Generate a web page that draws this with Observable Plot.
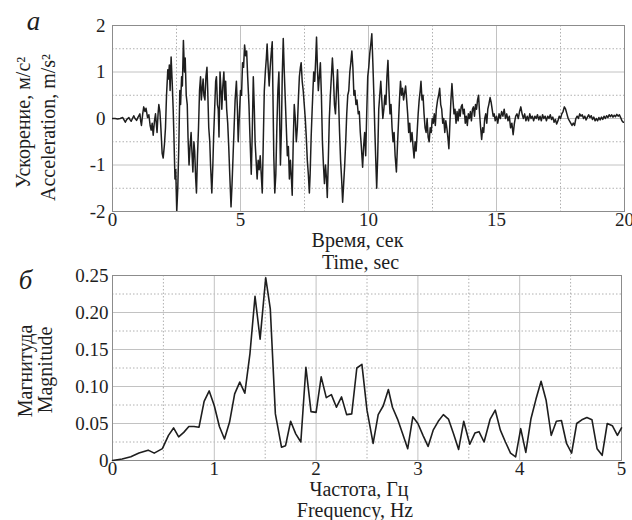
<!DOCTYPE html>
<html><head><meta charset="utf-8">
<script src="https://cdn.jsdelivr.net/npm/d3@7"></script>
<script src="https://cdn.jsdelivr.net/npm/@observablehq/plot@0.6"></script>
<style>
body{margin:0;background:#fff}
#chart svg{display:block;overflow:visible;font-family:'Liberation Serif','Times New Roman',serif !important}
#chart svg text, #chart svg g{font-family:'Liberation Serif','Times New Roman',serif !important}
</style>
</head><body><div id="chart"></div>
<script>
// Panel а: acceleration record [time (s), acceleration (m/s²)]
const accelRecord = [
[0,0],[0.1,0],[0.2,-0.01],[0.3,0],[0.4,0.02],[0.45,-0.03],[0.5,-0.08],[0.56,-0.02],[0.64,0.02],[0.69,-0.03],
[0.73,-0.06],[0.78,0],[0.83,0.06],[0.88,0],[0.94,-0.04],[1.0,0.03],[1.07,0.1],[1.1,-0.05],[1.13,-0.15],[1.18,0.1],
[1.22,0.25],[1.27,0.15],[1.31,0.22],[1.37,0.02],[1.42,0.08],[1.47,-0.15],[1.51,-0.25],[1.55,-0.1],[1.59,-0.36],[1.64,-0.05],
[1.68,0.1],[1.71,-0.1],[1.74,-0.3],[1.78,0.1],[1.81,0.3],[1.85,0.15],[1.88,-0.1],[1.94,-0.75],[1.98,-0.85],[2.03,-0.55],
[2.07,-0.2],[2.11,0.5],[2.16,1.05],[2.19,0.85],[2.22,1.15],[2.25,0.6],[2.29,1.32],[2.33,0.8],[2.37,0.2],[2.4,-0.4],
[2.44,-1.3],[2.47,-1.1],[2.51,-2.0],[2.55,-1.5],[2.59,-0.6],[2.63,0.6],[2.66,0.3],[2.7,0.9],[2.73,0.7],[2.77,1.68],
[2.81,1.0],[2.84,1.3],[2.88,0.5],[2.92,0.3],[2.95,-0.4],[2.99,-1.0],[3.03,-0.6],[3.07,-0.3],[3.11,-0.8],[3.14,-1.15],
[3.18,-0.5],[3.21,-0.7],[3.25,-1.3],[3.28,-1.6],[3.32,-0.8],[3.36,-0.2],[3.4,0.6],[3.44,0.9],[3.47,0.4],[3.5,0.6],
[3.54,0.85],[3.57,0.5],[3.61,0.4],[3.65,0.9],[3.69,1.1],[3.72,0.6],[3.76,-0.2],[3.8,-0.5],[3.83,-1.0],[3.88,-1.6],
[3.92,-1.0],[3.95,-0.4],[3.99,0.2],[4.03,0.8],[4.06,0.9],[4.1,0.3],[4.13,0.2],[4.16,-0.4],[4.2,1.0],[4.24,0.6],
[4.27,0.2],[4.31,0.7],[4.35,1.0],[4.39,0.4],[4.42,0.8],[4.46,0.2],[4.5,-0.1],[4.54,-0.6],[4.58,-1.2],[4.63,-1.9],
[4.67,-1.4],[4.71,-0.8],[4.75,-0.2],[4.79,0.4],[4.84,0.8],[4.88,0.2],[4.91,-0.5],[4.95,0],[5.0,0.6],[5.04,0.5],
[5.08,1.2],[5.12,1.1],[5.16,1.58],[5.2,1.35],[5.24,1.45],[5.28,0.9],[5.33,0.3],[5.37,-0.4],[5.42,-1.2],[5.46,-0.3],
[5.5,0.9],[5.54,0.2],[5.57,-0.5],[5.61,-0.9],[5.65,-1.3],[5.69,-0.9],[5.73,-1.1],[5.77,-0.8],[5.81,-1.2],[5.85,-1.6],
[5.89,-0.5],[5.93,0.6],[5.97,1.0],[6.01,1.3],[6.04,1.6],[6.08,1.1],[6.12,0.7],[6.16,1.1],[6.2,1.4],[6.24,1.65],
[6.27,0.4],[6.3,-0.8],[6.34,-1.6],[6.38,-1.2],[6.42,-0.2],[6.46,0.6],[6.5,1.0],[6.53,0],[6.56,-1.0],[6.6,-0.2],
[6.63,0.9],[6.67,1.72],[6.71,1.0],[6.75,0.4],[6.79,-0.2],[6.83,-0.8],[6.87,-0.6],[6.91,-1.3],[6.95,-0.9],[6.99,-1.3],
[7.02,-1.65],[7.06,-0.5],[7.1,0.3],[7.14,0],[7.18,-0.5],[7.22,-0.2],[7.26,0.4],[7.3,0.9],[7.34,1.1],[7.37,1.2],
[7.41,0.8],[7.45,0.6],[7.49,0.3],[7.53,0],[7.57,-0.4],[7.61,-0.9],[7.65,-1.2],[7.69,-1.6],[7.72,-1.2],[7.76,-0.4],
[7.8,0.2],[7.83,0.6],[7.86,1.0],[7.9,0.8],[7.94,1.3],[7.97,1.75],[8.01,1.0],[8.04,0.6],[8.08,0.9],[8.12,1.2],
[8.16,0.5],[8.2,-0.5],[8.24,-1.0],[8.28,-1.4],[8.32,-1.0],[8.36,-1.3],[8.39,-1.7],[8.43,-0.9],[8.47,0],[8.51,0.5],
[8.55,0.9],[8.59,1.3],[8.63,0.9],[8.67,0.3],[8.71,0.1],[8.75,0.6],[8.79,1.05],[8.83,0.4],[8.87,-0.3],[8.91,-0.9],
[8.95,-1.3],[8.99,-1.8],[9.03,-1.4],[9.07,-1.0],[9.11,-0.5],[9.15,0.1],[9.19,0.5],[9.23,0.6],[9.27,1.0],[9.31,1.2],
[9.35,1.45],[9.39,1.1],[9.43,0.5],[9.47,0.6],[9.51,0.3],[9.55,0.4],[9.6,0.1],[9.64,0.15],[9.68,-0.3],[9.72,-0.6],
[9.77,-1.05],[9.81,-0.6],[9.85,-0.3],[9.89,-0.8],[9.93,0.1],[9.97,0.9],[10.01,1.1],[10.05,1.4],[10.09,1.6],[10.13,1.82],
[10.17,1.2],[10.21,0.5],[10.25,-0.3],[10.29,-1.0],[10.32,-1.5],[10.36,-0.8],[10.4,0.2],[10.44,0.5],[10.48,0.8],[10.52,0.4],
[10.56,0],[10.6,0.2],[10.64,0.5],[10.68,0.3],[10.72,0.9],[10.76,1.25],[10.8,0.6],[10.84,0.1],[10.88,0.3],[10.92,-0.2],
[10.96,-0.5],[11.0,-0.3],[11.04,-0.8],[11.09,-1.15],[11.13,-0.6],[11.17,-0.1],[11.21,0.4],[11.25,0.8],[11.29,0.5],[11.33,0.65],
[11.37,0.4],[11.41,0.55],[11.45,0.7],[11.49,0.4],[11.53,0.1],[11.57,-0.3],[11.61,-0.1],[11.65,-0.5],[11.7,-0.3],[11.74,-0.6],
[11.78,-0.85],[11.82,-0.5],[11.86,-0.7],[11.9,-0.3],[11.94,0.1],[11.98,0.4],[12.02,0.6],[12.05,0.8],[12.09,0.4],[12.13,0.5],
[12.17,0.1],[12.21,-0.2],[12.25,-0.3],[12.29,0],[12.33,-0.4],[12.37,-0.5],[12.41,-0.2],[12.45,-0.3],[12.49,0],[12.53,-0.1],
[12.57,0.1],[12.61,-0.15],[12.65,0.2],[12.7,0.4],[12.74,0.5],[12.78,0.65],[12.82,0.3],[12.86,0.2],[12.9,-0.1],[12.94,0],
[12.98,-0.3],[13.02,-0.05],[13.06,-0.2],[13.1,-0.4],[13.14,-0.65],[13.18,-0.1],[13.22,0.4],[13.26,0.75],[13.3,0.4],[13.34,0.1],
[13.38,0.2],[13.42,-0.1],[13.46,0.15],[13.5,-0.05],[13.54,0.2],[13.58,0.05],[13.62,0.25],[13.66,0.3],[13.7,0.1],[13.74,0.2],
[13.78,-0.1],[13.82,0.05],[13.86,-0.15],[13.9,0.1],[13.94,0],[13.98,0.15],[14.02,-0.05],[14.06,0.2],[14.1,0.25],[14.14,0.05],
[14.18,0.3],[14.22,0.2],[14.26,0.4],[14.3,0.5],[14.34,0.1],[14.38,-0.2],[14.42,-0.45],[14.46,-0.2],[14.5,-0.3],[14.54,0],
[14.58,0.1],[14.62,-0.1],[14.66,0.2],[14.7,0.3],[14.75,0.45],[14.79,0.35],[14.83,0.2],[14.87,0.05],[14.91,0.1],[14.95,-0.05],
[15.0,0.05],[15.05,-0.1],[15.1,0.1],[15.15,0],[15.2,0.15],[15.25,0.05],[15.3,0.2],[15.35,0],[15.4,0.1],[15.45,-0.05],
[15.5,0.05],[15.55,-0.2],[15.6,-0.1],[15.65,-0.35],[15.7,-0.1],[15.75,0.05],[15.8,0.1],[15.85,0],[15.9,0.15],[15.95,0.25],
[16.0,0.1],[16.05,0],[16.1,0.1],[16.15,-0.05],[16.2,0.05],[16.25,-0.05],[16.3,0.1],[16.35,0],[16.4,0.05],[16.45,-0.05],
[16.5,0.05],[16.55,0],[16.6,0.08],[16.65,-0.03],[16.7,0.05],[16.75,-0.05],[16.8,0.08],[16.85,0],[16.9,0.05],[16.95,-0.05],
[17.0,0.05],[17.05,0],[17.1,0.08],[17.15,-0.02],[17.2,0.03],[17.25,-0.08],[17.3,-0.02],[17.35,-0.12],[17.4,-0.05],[17.45,0.05],
[17.5,0],[17.55,0.1],[17.6,0.15],[17.65,0.25],[17.7,0.2],[17.75,0.1],[17.8,0],[17.85,-0.05],[17.9,-0.1],[17.95,-0.15],
[18.0,-0.1],[18.05,-0.15],[18.1,0],[18.15,0.05],[18.2,0],[18.25,0.1],[18.3,0.05],[18.35,0.08],[18.4,0],[18.45,0.05],
[18.5,-0.03],[18.55,0.03],[18.6,0.08],[18.65,0.02],[18.7,0.06],[18.75,-0.02],[18.8,0.03],[18.85,-0.05],[18.9,0],[18.95,-0.05],
[19.0,0.02],[19.05,-0.03],[19.1,0.03],[19.15,-0.02],[19.2,0.05],[19.25,0],[19.3,0.06],[19.35,0.02],[19.4,0.08],[19.45,0.04],
[19.5,0.08],[19.55,0.03],[19.6,0.07],[19.65,0.04],[19.7,0.09],[19.75,0.05],[19.8,0.08],[19.85,0.02],[19.9,-0.05],[19.95,-0.08],
[20.0,-0.08]
];

// Panel б: amplitude spectrum
const freq = [0,0.095,0.18,0.26,0.35,0.41,0.49,0.55,0.60,0.65,0.70,0.75,0.80,0.85,0.90,0.95,
1.00,1.05,1.10,1.15,1.20,1.25,1.30,1.35,1.40,1.45,1.505,1.55,1.60,1.66,1.70,1.75,1.80,1.85,1.90,1.95,
2.00,2.05,2.10,2.15,2.20,2.25,2.30,2.35,2.40,2.45,2.50,2.56,2.61,2.66,2.71,2.75,2.80,2.85,2.90,2.95,
3.00,3.05,3.10,3.15,3.20,3.25,3.30,3.35,3.40,3.45,3.51,3.56,3.60,3.65,3.71,3.76,3.81,3.86,3.91,3.96,
4.01,4.06,4.11,4.16,4.21,4.26,4.31,4.36,4.41,4.46,4.51,4.56,4.61,4.66,4.71,4.76,4.81,4.86,4.91,4.96,5.00];
const magnitude = [0,0.002,0.005,0.010,0.014,0.010,0.016,0.034,0.044,0.032,0.038,0.046,0.046,0.045,0.080,0.094,
0.074,0.046,0.029,0.052,0.090,0.106,0.091,0.144,0.222,0.164,0.247,0.205,0.063,0.018,0.020,0.053,0.036,0.025,0.126,0.066,
0.065,0.113,0.085,0.089,0.072,0.086,0.062,0.063,0.125,0.130,0.068,0.023,0.062,0.074,0.096,0.072,0.056,0.036,0.016,0.059,
0.050,0.034,0.019,0.041,0.053,0.062,0.056,0.036,0.015,0.053,0.022,0.037,0.039,0.025,0.056,0.068,0.041,0.025,0.010,0.005,
0.043,0.011,0.056,0.083,0.107,0.081,0.034,0.053,0.054,0.023,0.010,0.050,0.055,0.058,0.055,0.016,0.007,0.050,0.047,0.034,0.044];

const timeTicks = [0, 5, 10, 15, 20];
const timeMinor = [2.5, 7.5, 12.5, 17.5];
const accelTicks = [-2, -1, 0, 1, 2];
const accelMinor = [-1.5, -0.5, 0.5, 1.5];
const freqTicks = [0, 1, 2, 3, 4, 5];
const freqMinor = [0.5, 1.5, 2.5, 3.5, 4.5];
const magTicks = [0, 0.05, 0.10, 0.15, 0.20, 0.25];
const magMinor = [0.025, 0.075, 0.125, 0.175, 0.225];

const serif = "Liberation Serif";
const majorColor = "#c2c2c2", minorColor = "#b0b0b0", frameColor = "#8c8c8c", ink = "#1e1e1e";

function grids(xMaj, yMaj, xMin, yMin) {
  return [
    Plot.gridX(xMin, {stroke: minorColor, strokeOpacity: 1, strokeDasharray: "1.5,2"}),
    Plot.gridY(yMin, {stroke: minorColor, strokeOpacity: 1, strokeDasharray: "1.5,2"}),
    Plot.gridX(xMaj.slice(1, -1), {stroke: majorColor, strokeOpacity: 1}),
    Plot.gridY(yMaj.slice(1, -1), {stroke: majorColor, strokeOpacity: 1}),
    Plot.frame({stroke: frameColor})
  ];
}
const t = (s, o) => Plot.text([s], {text: d => d, fill: ink, fontFamily: serif,
  textAnchor: "middle", lineAnchor: "middle", ...o});
const axisOpts = {tickSize: 0, label: null, fontSize: 19, fontFamily: serif, fill: ink};

const panelA = Plot.plot({
  width: 632, height: 260, marginTop: 25, marginBottom: 49, marginLeft: 112, marginRight: 8,
  style: {fontFamily: serif, fontSize: "19px", background: "transparent", color: ink, overflow: "visible"},
  x: {domain: [0, 20]},
  y: {domain: [-2, 2]},
  marks: [
    ...grids(timeTicks, accelTicks, timeMinor, accelMinor),
    Plot.line(accelRecord, {x: d => d[0], y: d => d[1], stroke: ink, strokeWidth: 1.5, clip: true}),
    Plot.axisX(timeTicks, {...axisOpts, tickPadding: 1, tickFormat: d => String(d)}),
    Plot.axisY(accelTicks, {...axisOpts, tickPadding: 7, tickFormat: d => String(d)}),
    t("Время, сек", {frameAnchor: "bottom", dx: -11, dy: 29, fontSize: 20}),
    t("Time, sec", {frameAnchor: "bottom", dx: -8, dy: 51, fontSize: 20}),
    t("Ускорение, м/с²", {frameAnchor: "left", dx: -89, dy: 4, rotate: -90, fontSize: 20}),
    t("Acceleration, m/s²", {frameAnchor: "left", dx: -64, dy: 9, rotate: -90, fontSize: 20}),
    t("а", {frameAnchor: "top-left", dx: -79, dy: -4, fontSize: 27, fontStyle: "italic"})
  ]
});

const panelB = Plot.plot({
  width: 632, height: 260, marginTop: 15, marginBottom: 60, marginLeft: 112, marginRight: 11,
  style: {fontFamily: serif, fontSize: "19px", background: "transparent", color: ink, overflow: "visible"},
  x: {domain: [0, 5]},
  y: {domain: [0, 0.25]},
  marks: [
    ...grids(freqTicks, magTicks, freqMinor, magMinor),
    Plot.line(freq.map((f, i) => ({f, m: magnitude[i]})), {x: "f", y: "m", stroke: ink, strokeWidth: 1.6}),
    Plot.axisX(freqTicks, {...axisOpts, tickPadding: 1, tickFormat: d => String(d)}),
    Plot.axisY(magTicks, {...axisOpts, tickPadding: 4, tickFormat: d => d === 0 ? "0" : d.toFixed(2)}),
    t("Частота, Гц", {frameAnchor: "bottom", dx: -8, dy: 29, fontSize: 20}),
    t("Frequency, Hz", {frameAnchor: "bottom", dx: -12, dy: 50, fontSize: 20}),
    t("Магнитуда", {frameAnchor: "left", dx: -87, dy: 3, rotate: -90, fontSize: 20}),
    t("Magnitude", {frameAnchor: "left", dx: -67, dy: 2, rotate: -90, fontSize: 20}),
    t("б", {frameAnchor: "top-left", dx: -87, dy: 5, fontSize: 27, fontStyle: "italic"})
  ]
});

const chart = document.getElementById("chart");
chart.append(panelA, panelB);
</script>
</body></html>
